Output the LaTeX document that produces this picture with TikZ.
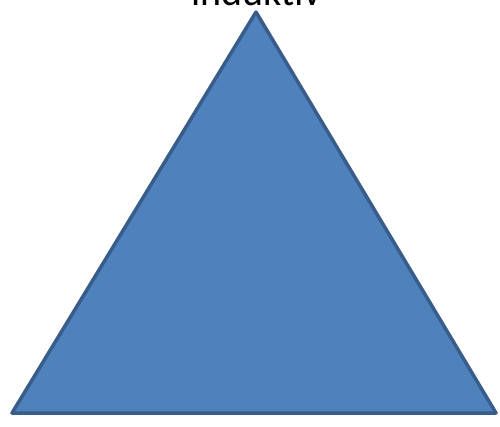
\documentclass[tikz,border=0pt]{standalone}
\usepackage{fontspec}
\setmainfont{Carlito}
\definecolor{triFill}{HTML}{4F81BD}
\definecolor{triLine}{HTML}{385D8A}
\tikzset{tri/.style={fill=triFill,draw=triLine,line width=3.5pt,line join=round}}
\begin{document}
\begin{tikzpicture}[x=1pt,y=-1pt]
\useasboundingbox (0,0) rectangle (500,426);
\coordinate (apex) at (256,12);
\coordinate (bl) at (12,413);
\coordinate (br) at (496,413);
\draw[tri] (apex) -- (bl) -- (br) -- cycle;
\node[anchor=base,inner sep=0pt,font=\fontsize{40}{44}\selectfont] (lbl) at (256.5,5) {induktiv};
\end{tikzpicture}
\end{document}
